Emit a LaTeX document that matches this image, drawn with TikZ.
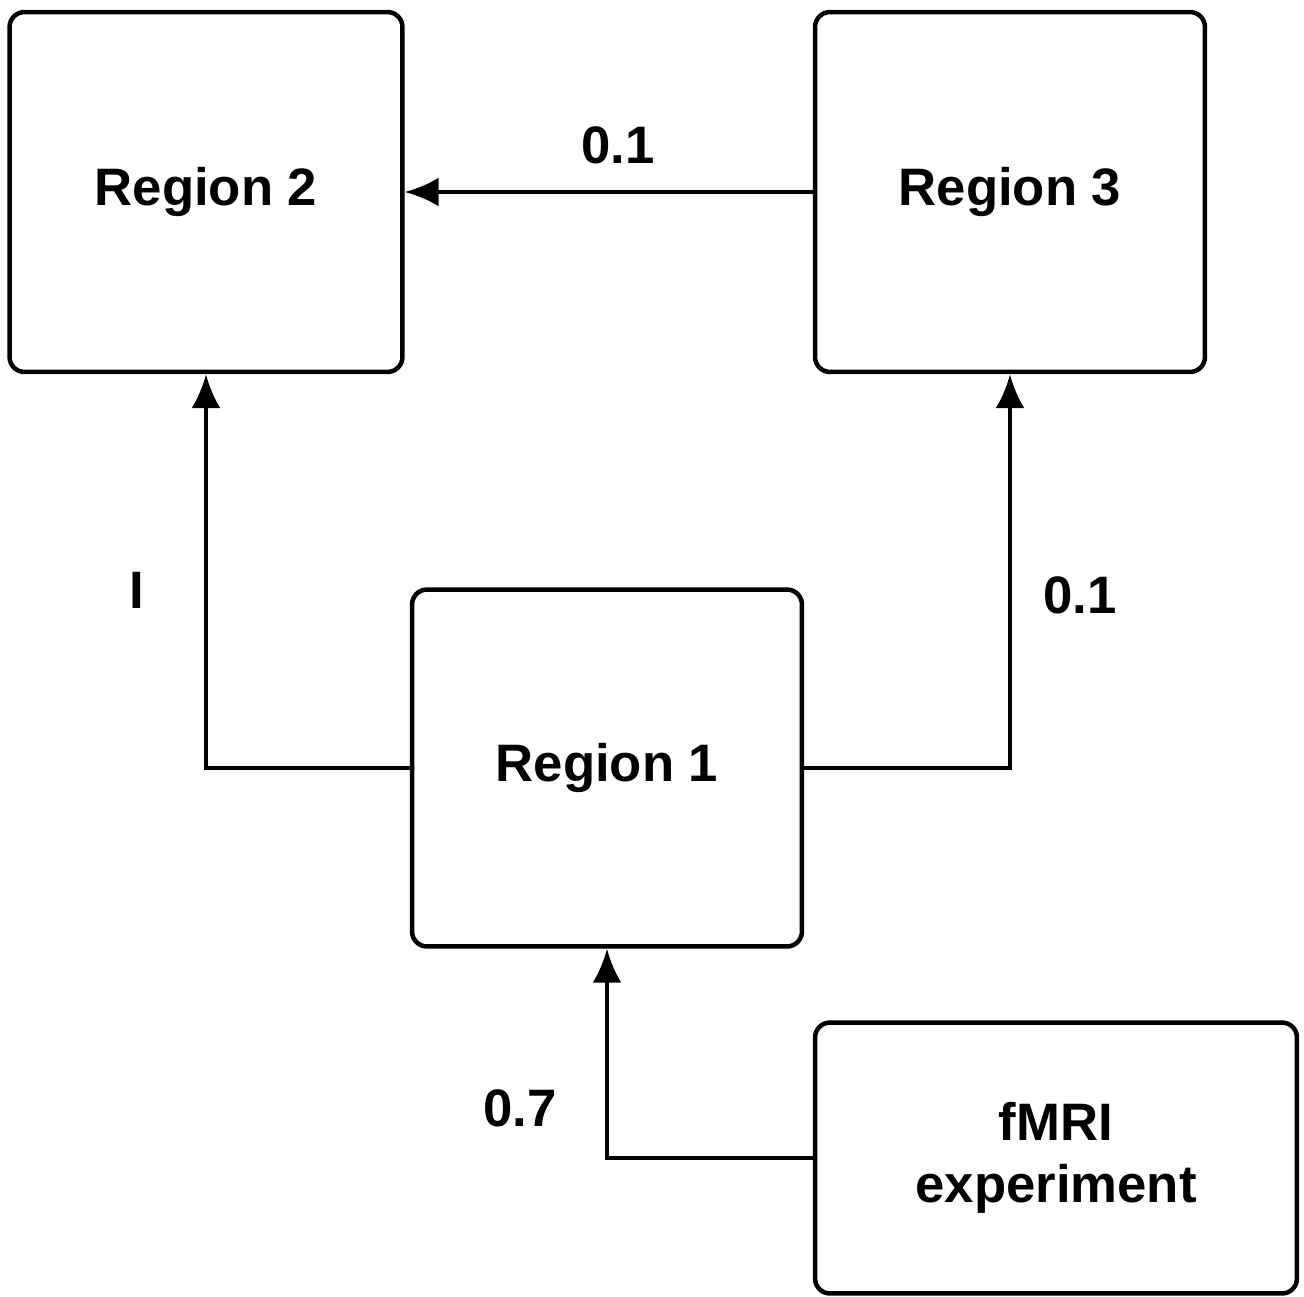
\documentclass[tikz,border=0pt]{standalone}
\usepackage{fontspec}
\setmainfont{Liberation Sans}
\usetikzlibrary{arrows.meta}

\begin{document}
\begin{tikzpicture}[x=0.02cm,y=-0.02cm,>={Latex[length=0.68cm,width=0.58cm]},
  regionbox/.style={draw,line width=0.09cm,rounded corners=0.3cm,align=center,
    font=\fontsize{30}{35}\selectfont\bfseries,inner sep=0pt},
  link/.style={->,line width=0.08cm},
  weight/.style={font=\fontsize{30}{35}\selectfont\bfseries}]
  \useasboundingbox (0,0) rectangle (1304,1297);
  \node[regionbox,minimum width=7.86cm,minimum height=7.2cm] (r2) at (206,192) {Region 2};
  \node[regionbox,minimum width=7.8cm,minimum height=7.2cm] (r3) at (1010,192) {Region 3};
  \node[regionbox,minimum width=7.8cm,minimum height=7.14cm] (r1) at (607,768) {Region 1};
  \node[regionbox,minimum width=9.64cm,minimum height=5.42cm] (fmri) at (1056,1158) {fMRI\\experiment};
  \draw[link] (r3.west) -- (r2.east);
  \draw[link] (r1.west) -| (r2.south);
  \draw[link] (r1.east) -| (r3.south);
  \draw[link] (fmri.west) -| (r1.south);
  \node[weight] (w32) at (618,145) {0.1};
  \node[weight] (w12) at (137,590) {I};
  \node[weight] (w13) at (1080,595) {0.1};
  \node[weight] (wf1) at (520,1108) {0.7};
\end{tikzpicture}
\end{document}
